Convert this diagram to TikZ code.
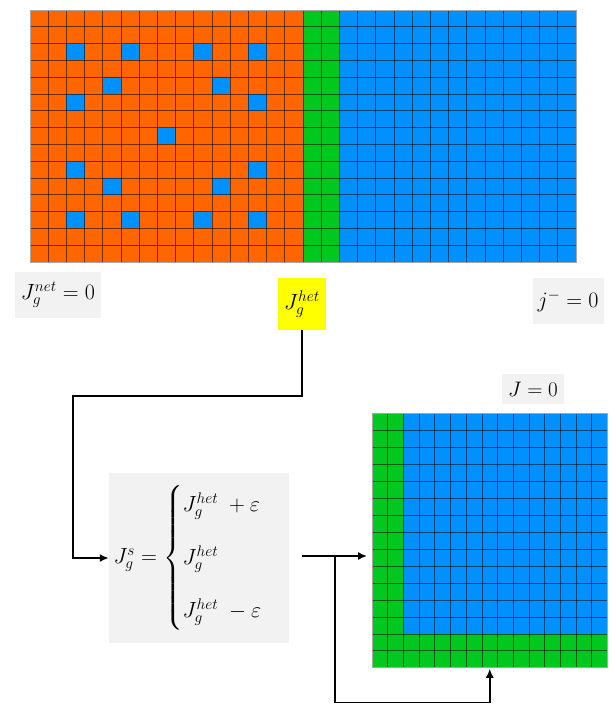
\RequirePackage{fix-cm}
\documentclass[tikz,border=0pt]{standalone}
\usepackage{amsmath}
\usepackage{amssymb}
\usepackage{tikz}
\usetikzlibrary{calc,arrows.meta}
\definecolor{cellorange}{HTML}{FF6600}
\definecolor{cellgreen}{HTML}{00C81E}
\definecolor{cellblue}{HTML}{0091FF}
\definecolor{labelgray}{HTML}{F2F2F2}
\definecolor{labelyellow}{HTML}{FFFF00}
\newcommand{\cellW}{18.2}
\newcommand{\cellH}{16.8}
\newcommand{\sqW}{15.7}
\newcommand{\sqH}{16.95}

\begin{document}
\begin{tikzpicture}[x=1pt,y=-1pt,
  gridline/.style={black, opacity=0.55, line width=0.7pt},
  meshframe/.style={draw=gray!70, line width=0.9pt, inner sep=0pt, outer sep=0pt, anchor=north west},
  labelbox/.style={fill=labelgray, inner sep=0pt, font=\fontsize{22}{26}\selectfont},
  link/.style={line width=1.6pt, -{Latex[length=9pt,width=8pt]}}]

\useasboundingbox (0,0) rectangle (611,704);

% top mesh
\coordinate (T0) at (30,10);

\fill[cellorange] (T0) rectangle ++(15*\cellW,15*\cellH);
\fill[cellgreen] ($(T0)+(15*\cellW,0)$) rectangle ++(2*\cellW,15*\cellH);
\fill[cellblue] ($(T0)+(17*\cellW,0)$) rectangle ++(13*\cellW,15*\cellH);
\foreach \i/\j in {2/2,5/2,9/2,12/2,4/4,10/4,2/5,12/5,7/7,2/9,12/9,4/10,10/10,2/12,5/12,9/12,12/12}
  \fill[cellblue] ($(T0)+(\i*\cellW,\j*\cellH)$) rectangle ++(\cellW,\cellH);
\foreach \i in {1,...,29}
  \draw[gridline] ($(T0)+(\i*\cellW,0)$) -- ++(0,15*\cellH);
\foreach \j in {1,...,14}
  \draw[gridline] ($(T0)+(0,\j*\cellH)$) -- ++(30*\cellW,0);
\node[meshframe, minimum width=30*\cellW pt, minimum height=15*\cellH pt] (mesh) at (T0) {};

% square mesh
\coordinate (S0) at (372,413.5);

\fill[cellblue] (S0) rectangle ++(15*\sqW,15*\sqH);
\fill[cellgreen] (S0) rectangle ++(2*\sqW,15*\sqH);
\fill[cellgreen] ($(S0)+(0,13*\sqH)$) rectangle ++(15*\sqW,2*\sqH);
\foreach \i in {1,...,14}
  \draw[gridline] ($(S0)+(\i*\sqW,0)$) -- ++(0,15*\sqH);
\foreach \j in {1,...,14}
  \draw[gridline] ($(S0)+(0,\j*\sqH)$) -- ++(15*\sqW,0);
\node[meshframe, minimum width=15*\sqW pt, minimum height=15*\sqH pt] (sq) at (S0) {};

% labels
\node[labelbox, minimum width=86pt, minimum height=46pt] (net) at (58,295) {$J_g^{net}=0$};
\node[labelbox, fill=labelyellow, minimum width=48pt, minimum height=52pt] (het) at (302,304) {$J_g^{het}$};
\node[labelbox, minimum width=71pt, minimum height=46pt] (jm) at (568,301) {$j^{-}=0$};
\node[labelbox, minimum width=62pt, minimum height=30pt, font=\fontsize{21}{24}\selectfont] (J0) at (533,389) {$J=0$};
\node[labelbox, minimum width=180pt, minimum height=170pt] (eq) at (199,558)
  {$J_g^s=\begin{cases} J_g^{het}\;+\varepsilon\\[22pt] J_g^{het}\\[22pt] J_g^{het}\;-\varepsilon\end{cases}$};

% connectors
\coordinate (turn) at (73,396);
\coordinate (out) at (302,556);
\coordinate (junc) at (335,556);
\coordinate (bot) at (335,702.5);

\draw[link, line width=2.4pt] (het.south) |- (turn) |- (eq.west);
\draw[link, shorten >=5pt] (out) -- (out -| sq.west);
\draw[link, shorten >=1pt] (junc) -- (bot) -| (sq.south);

\end{tikzpicture}
\end{document}
